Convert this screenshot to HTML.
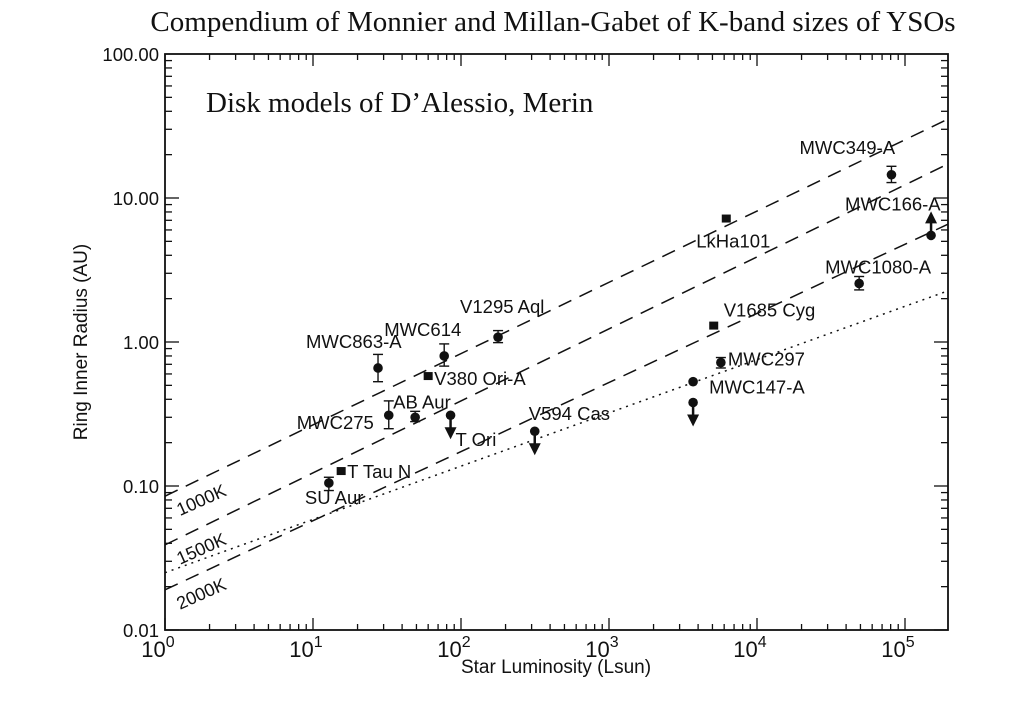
<!DOCTYPE html>
<html><head><meta charset="utf-8"><style>
body{margin:0;background:#fff;width:1024px;height:724px;overflow:hidden}
svg{display:block}
text{font-family:"Liberation Sans",sans-serif;fill:#111}
</style></head><body>
<svg id="chart" width="1024" height="724">
<text x="553" y="31" text-anchor="middle" style="font-family:'Liberation Serif',serif;font-size:29px">Compendium of Monnier and Millan-Gabet of K-band sizes of YSOs</text>
<text x="206" y="112" style="font-family:'Liberation Serif',serif;font-size:29px">Disk models of D’Alessio, Merin</text>
<g id="axes"></g><g id="lines"></g><g id="marks"></g>
<text x="556" y="673" text-anchor="middle" font-size="19">Star Luminosity (Lsun)</text>
<text transform="translate(87,342) rotate(-90)" text-anchor="middle" font-size="19">Ring Inner Radius (AU)</text>
</svg>
<script>
const names=["SU Aur","T Tau N","MWC275","MWC863-A","AB Aur","V380 Ori-A","MWC614","T Ori","V1295 Aql","V594 Cas","MWC147-A","MWC147-A lim","MWC297","V1685 Cyg","LkHa101","MWC1080-A","MWC349-A","MWC166-A"];
const lum=[12.8,15.5,32.5,27.5,49,60,77,85,178,315,3700,3700,5700,5100,6200,49000,81000,150000];
const radius=[0.105,0.127,0.31,0.66,0.30,0.58,0.80,0.31,1.08,0.24,0.53,0.38,0.72,1.3,7.2,2.55,14.5,5.5];
const errLo=[0.093,0.127,0.25,0.53,0.28,0.58,0.68,0,0.99,0,0,0,0.66,1.3,7.2,2.3,12.8,0];
const errHi=[0.115,0.127,0.39,0.82,0.33,0.58,0.97,0,1.2,0,0,0,0.78,1.3,7.2,2.85,16.6,0];
const limit=[0,0,0,0,0,0,0,-1,0,-1,0,-1,0,0,0,0,0,1];
const square=[0,1,0,0,0,1,0,0,0,0,0,0,0,1,1,0,0,0];
const labels=["SU Aur","T Tau N","MWC275","MWC863-A","AB Aur","V380 Ori-A","MWC614","T Ori","V1295 Aql","V594 Cas","MWC147-A","","MWC297","V1685 Cyg","LkHa101","MWC1080-A","MWC349-A","MWC166-A"];
const labelDx=[-24,6,-92,-72,-22,6,-60,5,-38,-6,16,0,7,10,-30,-34,-92,-86];
const labelDy=[21,7,14,-20,-9,9,-20,31,-24,-11,12,0,3,-9,29,-10,-21,-25];
const lineNames=["1000K","1500K","2000K"];
const lineR0=[0.085,0.039,0.019];
const lineSlope=[0.495,0.5,0.48];
const dotR0=0.025, dotSlope=0.37;
const xTicks=[0,1,2,3,4,5];
const yTicks=["0.01","0.10","1.00","10.00","100.00"];
const X0=165,X1=948,Y0=630,Y1=54,DX=148,DY=144;
const xs=l=>X0+Math.log10(l)*DX;
const ys=r=>Y0-(Math.log10(r)+2)*DY;
const NS="http://www.w3.org/2000/svg";
function mk(tag,attrs,parent){const e=document.createElementNS(NS,tag);for(const k in attrs)e.setAttribute(k,attrs[k]);parent.appendChild(e);return e;}
const ax=document.getElementById('axes');
const frame=mk('rect',{x:X0,y:Y1,width:X1-X0,height:Y0-Y1,fill:'none',stroke:'#111','stroke-width':1.8},ax);


const Lmax=(X1-X0)/DX;
for(let d=0;d<6;d++)for(let m=1;m<10;m++){const v=d+Math.log10(m);if(v>Lmax)continue;const x=X0+v*DX;const len=m==1?12:6;
mk('line',{x1:x,x2:x,y1:Y0,y2:Y0-len,stroke:'#111','stroke-width':1.3},ax);mk('line',{x1:x,x2:x,y1:Y1,y2:Y1+len,stroke:'#111','stroke-width':1.3},ax);}
for(let d=0;d<4;d++)for(let m=1;m<10;m++){const y=Y0-(d+Math.log10(m))*DY;const len=m==1?14:7;
mk('line',{x1:X0,x2:X0+len,y1:y,y2:y,stroke:'#111','stroke-width':1.3},ax);mk('line',{x1:X1,x2:X1-len,y1:y,y2:y,stroke:'#111','stroke-width':1.3},ax);}
xTicks.forEach(d=>{const x=X0+d*DX;const t=mk('text',{x:x-7,y:657,'text-anchor':'middle','font-size':22},ax);t.textContent='10';
const s=mk('tspan',{dy:-10,'font-size':16},t);s.textContent=d;

});
yTicks.forEach((lab,i)=>{const t=mk('text',{x:X0-6,y:Y0-i*DY+7,'text-anchor':'end','font-size':18.5},ax);t.textContent=lab;

});
const lg=document.getElementById('lines');
const Lend=Math.pow(10,Lmax);
lineNames.forEach((n,i)=>{const p=mk('line',{x1:xs(1),y1:ys(lineR0[i]),x2:xs(Lend),y2:ys(lineR0[i]*Math.pow(Lend,lineSlope[i])),stroke:'#111','stroke-width':1.5,'stroke-dasharray':'14,9'},lg);


const y=ys(lineR0[i])+20;const t=mk('text',{x:180,y:y,'font-size':18,transform:`rotate(-24 180 ${y})`},lg);t.textContent=n;

});
const dl=mk('line',{x1:xs(1),y1:ys(dotR0),x2:xs(Lend),y2:ys(dotR0*Math.pow(Lend,dotSlope)),stroke:'#111','stroke-width':1.5,'stroke-dasharray':'2,5'},lg);


const mg=document.getElementById('marks');
names.forEach((n,i)=>{const g=mk('g',{},mg);


const x=xs(lum[i]),y=ys(radius[i]);
if(errLo[i]>0&&errHi[i]!=errLo[i]){const a=ys(errLo[i]),b=ys(errHi[i]);mk('line',{x1:x,x2:x,y1:a,y2:b,stroke:'#111','stroke-width':1.4},g);
mk('line',{x1:x-5,x2:x+5,y1:a,y2:a,stroke:'#111','stroke-width':1.4},g);mk('line',{x1:x-5,x2:x+5,y1:b,y2:b,stroke:'#111','stroke-width':1.4},g);}
if(square[i])mk('rect',{x:x-4.5,y:y-4,width:9,height:8,fill:'#111'},g);else mk('circle',{cx:x,cy:y,r:4.8,fill:'#111'},g);
if(limit[i]){const s=limit[i];mk('line',{x1:x,x2:x,y1:y,y2:y-s*14,stroke:'#111','stroke-width':2.5},g);
mk('polygon',{points:`${x-6},${y-s*12} ${x+6},${y-s*12} ${x},${y-s*24}`,fill:'#111'},g);}
if(labels[i]){const t=mk('text',{x:x+labelDx[i],y:y+labelDy[i],'font-size':18.5},g);t.textContent=labels[i];}});
</script>
</body></html>
